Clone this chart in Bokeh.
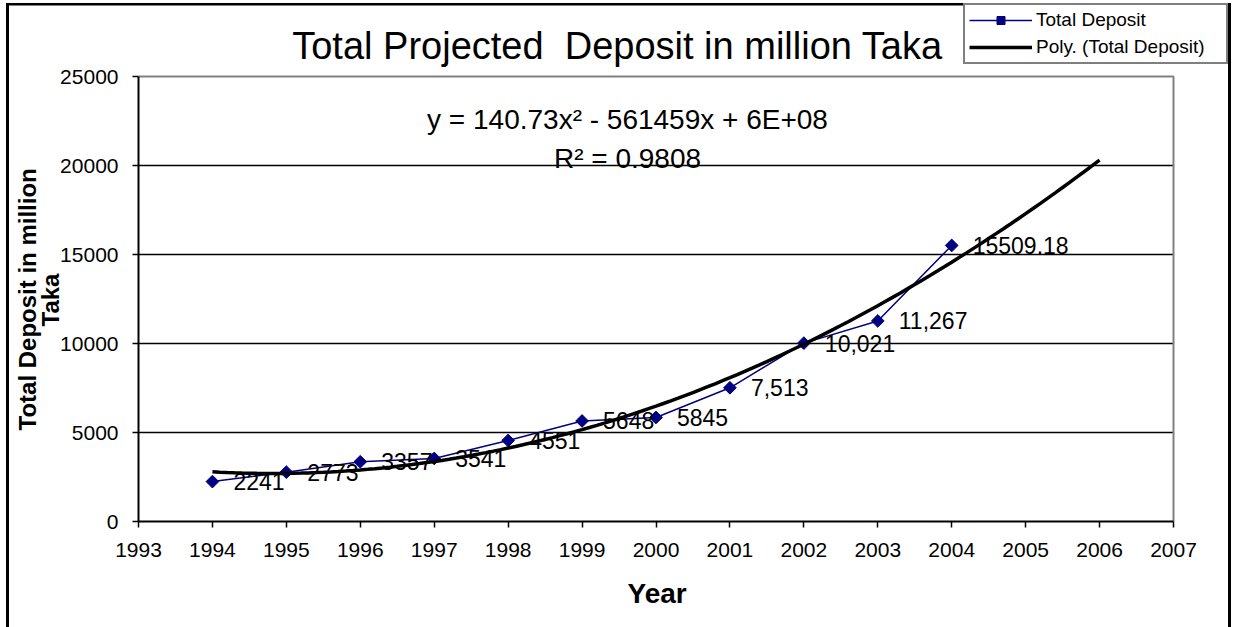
import numpy as np
from bokeh.plotting import figure
from bokeh.models import (ColumnDataSource, FixedTicker, Label, LabelSet, Legend,
                          LegendItem, Range1d, Title)
from bokeh.core.properties import value
from bokeh.embed import file_html
from bokeh.resources import INLINE

# ---- data -------------------------------------------------------------
years = [1994, 1995, 1996, 1997, 1998, 1999, 2000, 2001, 2002, 2003, 2004]
deposits = [2241, 2773, 3357, 3541, 4551, 5648, 5845, 7513, 10021, 11267, 15509.18]
deposit_labels = ["2241", "2773", "3357", "3541", "4551", "5648", "5845",
                  "7,513", "10,021", "11,267", "15509.18"]
x_ticks = list(range(1993, 2008))
y_ticks = [0, 5000, 10000, 15000, 20000, 25000]
grid_ticks = [5000, 10000, 15000, 20000]
x_limits = (1993, 2007)
y_limits = (0, 25000)
trend_span = (1994, 2006)

title_text = "Total Projected\u00a0 Deposit in million Taka"
equation_text = "y = 140.73x\u00b2 - 561459x + 6E+08"
r2_text = "R\u00b2 = 0.9808"
y_label_lines = ["Total Deposit in million", "Taka"]
x_label_text = "Year"

FONT = "Liberation Sans"
NAVY = "#000080"

# second-order polynomial trend of the deposit series
coef = np.polyfit(np.array(years) - 2000, deposits, 2)
trend_x = np.linspace(trend_span[0], trend_span[1], 121)
trend_y = np.polyval(coef, trend_x - 2000)

# ---- geometry (pixels) --------------------------------------------------
W, H = 1236, 627
PL, PR, PT, PB = 138, 1173, 76, 521      # plot-area edges
x_end = x_limits[0] + (x_limits[1] - x_limits[0]) * (W - PL) / (PR - PL)
y_end = y_limits[1] * PB / (PB - PT)

p = figure(width=W, height=H, output_backend="svg", toolbar_location=None,
           title_location=None,
           x_range=Range1d(x_limits[0], x_end), y_range=Range1d(0, y_end),
           min_border_left=PL, min_border_right=0,
           min_border_top=0, min_border_bottom=H - PB)

# outer chart border, painted behind a transparent canvas
bar = "linear-gradient(#000,#000)"
p.styles = {"background": (f"{bar} 6px 3px / 3px {H}px no-repeat, "
                           f"{bar} 6px 3px / 1225px 2.5px no-repeat, "
                           f"{bar} 1228px 3px / 3px {H}px no-repeat, #ffffff")}
p.background_fill_color = None
p.border_fill_color = None
p.outline_line_color = None

for ax in (p.xaxis[0], p.yaxis[0]):
    ax.axis_line_color = "black"
    ax.axis_line_width = 2
    ax.major_tick_line_color = "black"
    ax.major_tick_line_width = 1.5
    ax.major_tick_out = 6
    ax.major_tick_in = 0
    ax.minor_tick_line_color = None
    ax.major_label_text_font = FONT
    ax.major_label_text_font_size = "21px"
    ax.major_label_text_color = "black"
p.xaxis.ticker = FixedTicker(ticks=x_ticks)
p.yaxis.ticker = FixedTicker(ticks=y_ticks)
p.xaxis.bounds = x_limits
p.yaxis.bounds = y_limits
p.xaxis.major_label_standoff = 15
p.yaxis.major_label_standoff = 14

p.xgrid.visible = False
p.ygrid.visible = False

# axis titles
for text, off, gap in ((y_label_lines[1], 195, -12), (y_label_lines[0], 91, 0)):
    p.add_layout(Title(text=text, align="left", offset=off, standoff=gap,
                       text_font=FONT, text_font_size="24px", text_font_style="bold",
                       text_color="black"), "left")
p.add_layout(Title(text=x_label_text, align="left", offset=489, standoff=32,
                   text_font=FONT, text_font_size="28px", text_font_style="bold",
                   text_color="black"), "below")

# horizontal grid lines and the grey plot-area border
p.segment(x0=x_limits[0], x1=x_limits[1], y0=grid_ticks, y1=grid_ticks,
          line_color="black", line_width=1.5)
p.line([x_limits[0], x_limits[1], x_limits[1]], [y_limits[1], y_limits[1], y_limits[0]],
       line_color="#808080", line_width=2)

src = ColumnDataSource(dict(year=years, dep=deposits, lbl=deposit_labels))

dep_line = p.line("year", "dep", source=src, line_color=NAVY, line_width=1.5)
dep_marks = p.scatter("year", "dep", source=src, marker="square", angle=np.pi / 4,
                      size=9, fill_color=NAVY, line_color=NAVY)
trend = p.line(trend_x, trend_y, line_color="black", line_width=3.5)

p.add_layout(LabelSet(x="year", y="dep", text="lbl", source=src, x_offset=21, y_offset=0,
                      text_font=value(FONT), text_font_size="23px", text_color="black",
                      text_align="left", text_baseline="middle"))

legend = Legend(items=[LegendItem(label="Total Deposit", renderers=[dep_line, dep_marks]),
                       LegendItem(label="Poly. (Total Deposit)", renderers=[trend])],
                location=(963 - PL, PB - 64))
legend.border_line_color = "black"
legend.border_line_width = 2
legend.background_fill_color = "white"
legend.background_fill_alpha = 1
legend.label_text_font = FONT
legend.label_text_font_size = "19px"
legend.label_text_color = "black"
legend.glyph_width = 63
legend.glyph_height = 20
legend.label_height = 20
legend.label_width = 186
legend.label_standoff = 4
legend.spacing = 5
legend.padding = 4
legend.margin = 0
p.add_layout(legend)


def page_label(text, cx, cy, size):
    return Label(x=cx - PL, y=PB - cy, x_units="screen", y_units="screen", text=text,
                 text_font=FONT, text_font_size=size, text_color="black",
                 text_align="center", text_baseline="middle")


p.add_layout(page_label(title_text, 617, 45, "38px"))
p.add_layout(page_label(equation_text, 627, 119, "28px"))
p.add_layout(page_label(r2_text, 627, 158, "28px"))

open("out.html", "w").write(file_html(p, INLINE))
